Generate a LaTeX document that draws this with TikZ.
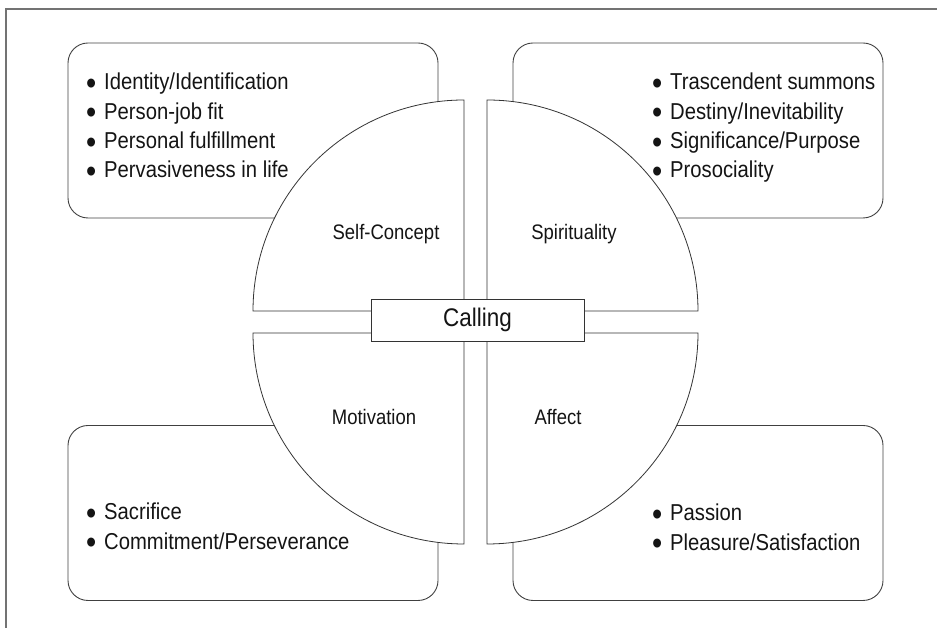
\documentclass[tikz,border=0pt]{standalone}
\usepackage{fontspec}
\setmainfont[FakeStretch=0.88]{Liberation Sans}
\usepackage{tikz}
\usetikzlibrary{positioning}
\newcommand{\itm}[1]{\makebox[18pt][l]{\smash{\raisebox{-4.5pt}{\fontsize{33}{0}\selectfont\textbullet}}}#1}

\begin{document}
\begin{tikzpicture}
  [
    x=1pt, y=1pt,
    Frame/.style={draw=black!55, line width=1.1pt},
    Box/.style={rectangle, draw=black!75, line width=0.9pt, rounded corners=20pt, minimum width=370pt, minimum height=175pt, inner sep=0pt},
    Quarter/.style={draw=black!80, fill=white, line width=0.8pt},
    List/.style={anchor=base west, align=left, inner sep=0pt, text=black!92, font=\fontsize{23}{29.3}\selectfont},
    Label/.style={anchor=base, inner sep=0pt, text=black!92, font=\fontsize{21}{25}\selectfont},
    Core/.style={rectangle, draw=black!80, fill=white, line width=0.9pt, minimum width=213pt, minimum height=42pt, inner sep=0pt, text=black!92, font=\fontsize{25.5}{30}\selectfont}
  ]
  \useasboundingbox (0,0) rectangle (937,628);
  % Frame
  \coordinate (f0) at (6,0);
  \coordinate (f1) at (6,619);
  \coordinate (f2) at (937,619);
  \draw[Frame] (f0) -- (f1) -- (f2);
  % Boxes
  \node[Box] (selfbox) at (253,497.5) {};
  \node[Box] (spiritbox) at (698,497.5) {};
  \node[Box] (motivbox) at (253,115) {};
  \node[Box] (affectbox) at (698,115) {};
  % Quarters
  \coordinate (q1) at (464,317);
  \coordinate (q2) at (487,317);
  \coordinate (q3) at (464,295);
  \coordinate (q4) at (487,295);
  \path[Quarter] (q1) -- ++(-211,0) arc[start angle=180, end angle=90, radius=211] -- cycle;
  \path[Quarter] (q2) -- ++(0,211) arc[start angle=90, end angle=0, radius=211] -- cycle;
  \path[Quarter] (q3) -- ++(0,-211) arc[start angle=270, end angle=180, radius=211] -- cycle;
  \path[Quarter] (q4) -- ++(211,0) arc[start angle=0, end angle=-90, radius=211] -- cycle;
  % Nodes
  \node[Core] (calling) at (477.5,308) {Calling};
  \node[Label] (self) at (386,388.7) {Self-Concept};
  \node[Label] (spirit) at (574,388.7) {Spirituality};
  \node[Label] (motiv) at (374,203) {Motivation};
  \node[Label] (affect) at (558,203) {Affect};
  % Lists (base is the last line)
  \node[List] (selflist) at (86,450.1) {\itm{Identity/Identification}\\\itm{Person-job fit}\\\itm{Personal fulfillment}\\\itm{Pervasiveness in life}};
  \node[List] (spiritlist) at (652,450.1) {\itm{Trascendent summons}\\\itm{Destiny/Inevitability}\\\itm{Significance/Purpose}\\\itm{Prosociality}};
  \node[List] (motivlist) at (86,78.7) {\itm{Sacrifice}\\\itm{Commitment/Perseverance}};
  \node[List] (affectlist) at (652,77.7) {\itm{Passion}\\\itm{Pleasure/Satisfaction}};
\end{tikzpicture}
\end{document}
